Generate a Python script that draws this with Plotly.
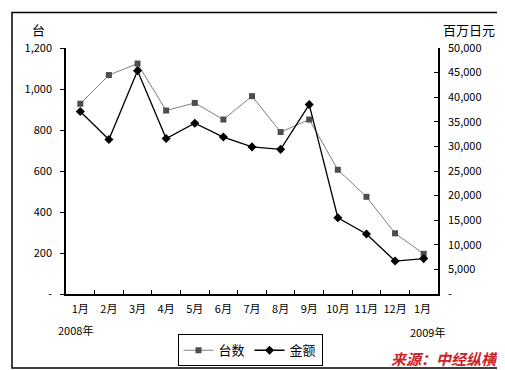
import plotly.graph_objects as go

months = ["1月", "2月", "3月", "4月", "5月", "6月", "7月", "8月", "9月", "10月", "11月", "12月", "1月 "]
units = [928, 1068, 1124, 895, 932, 851, 965, 790, 851, 606, 474, 296, 196]
amount = [37100, 31400, 45400, 31600, 34700, 31900, 29900, 29400, 38500, 15500, 12200, 6700, 7200]
left_ticks = [0, 200, 400, 600, 800, 1000, 1200]
left_labels = ["-", "200", "400", "600", "800", "1,000", "1,200"]
right_ticks = [0, 5000, 10000, 15000, 20000, 25000, 30000, 35000, 40000, 45000, 50000]
right_labels = ["-", "5,000", "10,000", "15,000", "20,000", "25,000", "30,000", "35,000", "40,000", "45,000", "50,000"]

W, H = 505, 370
L, R, T, B = 58, 430, 40, 289
pw, ph = R - L, B - T

def px(x):
    return (x - L) / pw

def py(y):
    return (B - y) / ph

FONT = "Noto Sans CJK SC, DejaVu Sans, sans-serif"

fig = go.Figure()
fig.add_trace(go.Scatter(
    x=months, y=units, name="台数", mode="lines+markers",
    line=dict(color="#808080", width=1),
    marker=dict(symbol="square", size=6, color="#4d4d4d"),
))
fig.add_trace(go.Scatter(
    x=months, y=amount, name="金额", mode="lines+markers", yaxis="y2",
    line=dict(color="#000000", width=1.3),
    marker=dict(symbol="diamond", size=7, color="#000000"),
))

fig.update_layout(
    width=W, height=H,
    margin=dict(l=L, r=W - R, t=T, b=H - B),
    paper_bgcolor="white", plot_bgcolor="white",
    font=dict(family=FONT, size=11, color="black"),
    showlegend=True,
    legend=dict(
        orientation="h", x=px(242), y=py(346), xanchor="center", yanchor="middle",
        bordercolor="black", borderwidth=1, bgcolor="white",
        font=dict(size=13), itemwidth=30, tracegroupgap=0,
    ),
    xaxis=dict(
        type="category", range=[-0.5, 12.5], showgrid=False,
        showline=True, linecolor="black", linewidth=1.5,
        ticks="inside", ticklen=4, tickcolor="black", tickson="boundaries",
        tickfont=dict(size=11), tickangle=0, zeroline=False, fixedrange=True,
        ticklabelstandoff=4,
    ),
    yaxis=dict(
        range=[0, 1200], tickvals=left_ticks, ticktext=left_labels,
        showgrid=False, showline=True, linecolor="black", linewidth=1.5,
        ticks="outside", ticklen=4, tickcolor="black", zeroline=False,
        tickfont=dict(size=11), ticklabelstandoff=6,
    ),
    yaxis2=dict(
        range=[0, 50000], tickvals=right_ticks, ticktext=right_labels,
        overlaying="y", side="right", showgrid=False,
        showline=True, linecolor="black", linewidth=1.5,
        ticks="inside", ticklen=4, tickcolor="black", zeroline=False,
        tickfont=dict(size=11), ticklabelstandoff=6,
    ),
    shapes=[dict(
        type="rect", xref="paper", yref="paper",
        x0=px(4), x1=px(501), y0=py(364), y1=py(4),
        line=dict(color="black", width=1.5), layer="below",
    )],
    annotations=[
        dict(text="台", x=px(31), y=py(21), xref="paper", yref="paper",
             showarrow=False, xanchor="center", yanchor="middle", font=dict(size=13)),
        dict(text="百万日元", x=px(461), y=py(21), xref="paper", yref="paper",
             showarrow=False, xanchor="center", yanchor="middle", font=dict(size=13)),
        dict(text="2008年", x=px(67), y=py(325), xref="paper", yref="paper",
             showarrow=False, xanchor="center", yanchor="middle", font=dict(size=11)),
        dict(text="2009年", x=px(419), y=py(327), xref="paper", yref="paper",
             showarrow=False, xanchor="center", yanchor="middle", font=dict(size=11)),
        dict(text="<b><i>来源：中经纵横</i></b>", x=px(382), y=py(354), xref="paper", yref="paper",
             showarrow=False, xanchor="left", yanchor="middle", width=116, align="left",
             borderpad=0,
             font=dict(family="Noto Sans CJK SC", size=15, color="#cc2229")),
    ],
)

fig.write_html("out.html")
